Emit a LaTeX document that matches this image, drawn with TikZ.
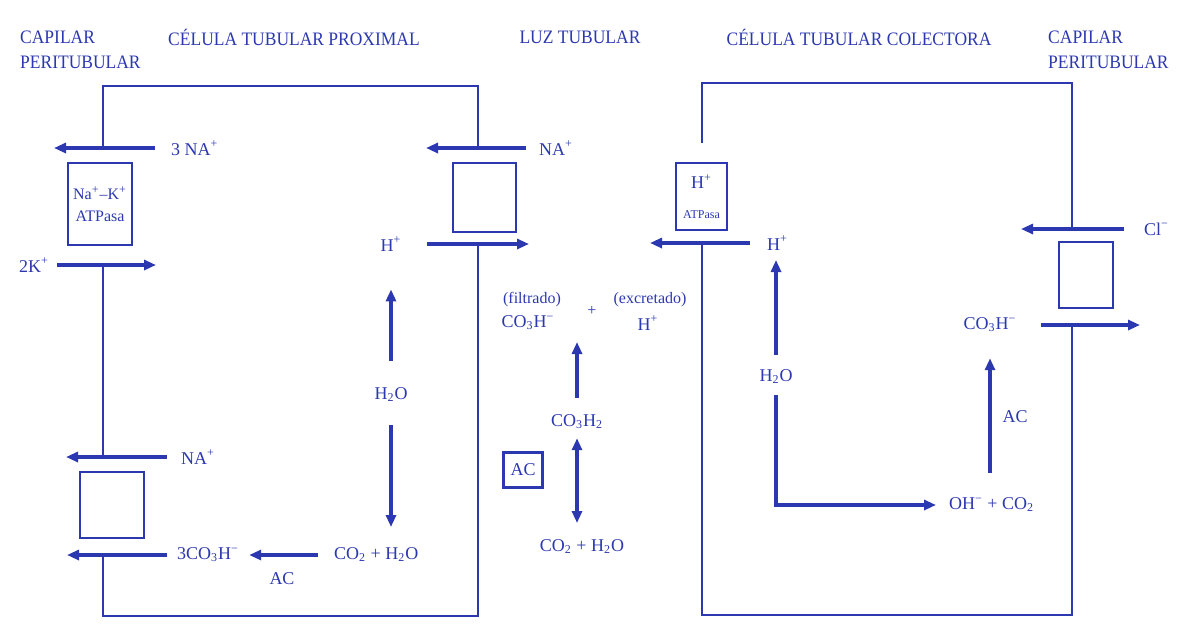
\documentclass[tikz,border=0pt]{standalone}
\usepackage{fontspec}
\setmainfont{Liberation Serif}
\newfontfamily\headfont[FakeStretch=0.92]{Liberation Serif}
\usetikzlibrary{arrows.meta}
\definecolor{scanblue}{RGB}{44,56,176}

\begin{document}
\begin{tikzpicture}[x=0.5pt, y=-0.5pt, color=scanblue, line width=1.2pt,
  lbl/.style={font=\fontsize{9}{10}\selectfont, inner sep=2pt},
  note/.style={font=\fontsize{8}{9}\selectfont, inner sep=2pt},
  head/.style={font=\headfont\fontsize{9.5}{12.5}\selectfont, align=left, inner sep=0pt},
  flow/.style={line width=1.6pt, -{Triangle[length=6pt, width=5pt]}},
  pump/.style={draw, line width=1.2pt, rectangle, inner sep=0pt, align=center}]
  \useasboundingbox (0,0) rectangle (1181,638);

  % encabezados
  \node[head, anchor=west] (capL) at (19,50) {CAPILAR\\PERITUBULAR};
  \node[head] (proximal) at (294,37) {CÉLULA TUBULAR PROXIMAL};
  \node[head] (luz) at (580,37) {LUZ TUBULAR};
  \node[head] (colectora) at (859,37) {CÉLULA TUBULAR COLECTORA};
  \node[head, anchor=west] (capR) at (1047,50) {CAPILAR\\PERITUBULAR};

  % membranas de la celula proximal
  \draw (103,148) -- (103,86) -- (478,86) -- (478,148);
  \draw (103,265) -- (103,457);
  \draw (103,555) -- (103,616) -- (478,616) -- (478,244);
  % membranas de la celula colectora
  \draw (702,143) -- (702,83) -- (1072,83) -- (1072,229);
  \draw (702,243) -- (702,615) -- (1072,615) -- (1072,325);

  % transportadores
  \node[pump, minimum width=32pt, minimum height=41pt,
    font=\fontsize{8}{11}\selectfont] (nak) at (100,204)
    {Na\textsuperscript{+}–K\textsuperscript{+}\\ATPasa};
  \node[pump, minimum width=31.5pt, minimum height=34.5pt] (cotrans) at (484.5,197.5) {};
  \node[pump, minimum width=32pt, minimum height=33pt] (antiport) at (112,505) {};
  \node[pump, minimum width=25.5pt, minimum height=33.5pt] (hpump) at (701.5,196.5)
    {\fontsize{9}{9}\selectfont H\textsuperscript{+}\\[3pt]\fontsize{6}{6}\selectfont ATPasa};
  \node[pump, minimum width=27pt, minimum height=33pt] (clex) at (1086,275) {};
  \node[pump, minimum width=19.5pt, minimum height=17.5pt,
    font=\fontsize{9}{10}\selectfont] (acbox) at (523,470) {AC};

  % celula proximal
  \coordinate (naBlood) at (54,148);
  \coordinate (kIn) at (156,265);
  \coordinate (naIn) at (426,148);
  \coordinate (hOut) at (529,244);
  \coordinate (naBasoOut) at (66,457);
  \coordinate (bicOut) at (67,555);
  \node[lbl, anchor=west] (na3) at (166,148) {3 NA\textsuperscript{+}};
  \node[lbl, anchor=east] (k2) at (54,265) {2K\textsuperscript{+}};
  \node[lbl, anchor=west] (naLumen) at (534,148) {NA\textsuperscript{+}};
  \node[lbl] (hProx) at (391,244) {H\textsuperscript{+}};
  \node[lbl] (h2oProx) at (391,395) {H\textsubscript{2}O};
  \node[lbl, anchor=west] (naBaso) at (176,457) {NA\textsuperscript{+}};
  \node[lbl, anchor=west] (bic3) at (172,555) {3CO\textsubscript{3}H\textsuperscript{−}};
  \node[lbl, anchor=west] (co2Prox) at (329,555) {CO\textsubscript{2} + H\textsubscript{2}O};
  \node[lbl] (acProx) at (282,579) {AC};

  \draw[flow, shorten <=5.5pt] (na3) -- (naBlood);
  \draw[flow, shorten <=1.5pt] (k2) -- (kIn);
  \draw[flow, shorten <=4pt] (naLumen) -- (naIn);
  \draw[flow, shorten <=10pt] (hProx) -- (hOut);
  \draw[flow, shorten <=11pt, shorten >=16.5pt] (h2oProx) -- (hProx);
  \draw[flow, shorten <=9pt, shorten >=14pt] (h2oProx) -- (h2oProx |- co2Prox);
  \draw[flow, shorten <=4.5pt] (naBaso) -- (naBasoOut);
  \draw[flow, shorten <=2.5pt] (bic3) -- (bicOut);
  \draw[flow, shorten <=5.5pt, shorten >=2.5pt] (co2Prox) -- (bic3);

  % luz tubular
  \node[note] (filt) at (532,300) {(filtrado)};
  \node[lbl] (bicLumen) at (528,323) {CO\textsubscript{3}H\textsuperscript{−}};
  \node[note] (plus) at (592,311) {+};
  \node[note] (excr) at (650,300) {(excretado)};
  \node[lbl] (hLumen) at (648,323) {H\textsuperscript{+}};
  \node[lbl] (h2co3) at (577,422) {CO\textsubscript{3}H\textsubscript{2}};
  \node[lbl] (co2Lumen) at (582,547) {CO\textsubscript{2} + H\textsubscript{2}O};

  \draw[flow, shorten <=6pt, shorten >=9.5pt] (h2co3) -- (h2co3 |- bicLumen);
  \draw[flow, {Triangle[length=6pt, width=5pt]}-{Triangle[length=6pt, width=5pt]},
    shorten <=2pt, shorten >=12pt] (h2co3) -- (h2co3 |- co2Lumen);

  % celula colectora
  \coordinate (hSecr) at (650,243);
  \coordinate (bicBlood) at (1140,325);
  \coordinate (clIn) at (1021,229);
  \node[lbl, anchor=west] (hCol) at (762,243) {H\textsuperscript{+}};
  \node[lbl] (h2oCol) at (776,377) {H\textsubscript{2}O};
  \node[lbl, anchor=west] (ohCol) at (944,505) {OH\textsuperscript{−} + CO\textsubscript{2}};
  \node[lbl] (bicCol) at (990,325) {CO\textsubscript{3}H\textsuperscript{−}};
  \node[lbl] (acCol) at (1015,417) {AC};
  \node[lbl, anchor=west] (clBlood) at (1139,229) {Cl\textsuperscript{−}};

  \draw[flow, shorten <=6pt] (hCol) -- (hSecr);
  \draw[flow, shorten <=5pt, shorten >=8.5pt] (h2oCol) -- (h2oCol |- hCol);
  \draw[flow, shorten <=3pt, shorten >=4pt] (h2oCol) |- (ohCol);
  \draw[flow, shorten <=10pt, shorten >=10.5pt] (bicCol |- ohCol.north) -- (bicCol);
  \draw[flow, shorten <=9.5pt] (bicCol) -- (bicBlood);
  \draw[flow, shorten <=7.5pt] (clBlood) -- (clIn);
\end{tikzpicture}
\end{document}
